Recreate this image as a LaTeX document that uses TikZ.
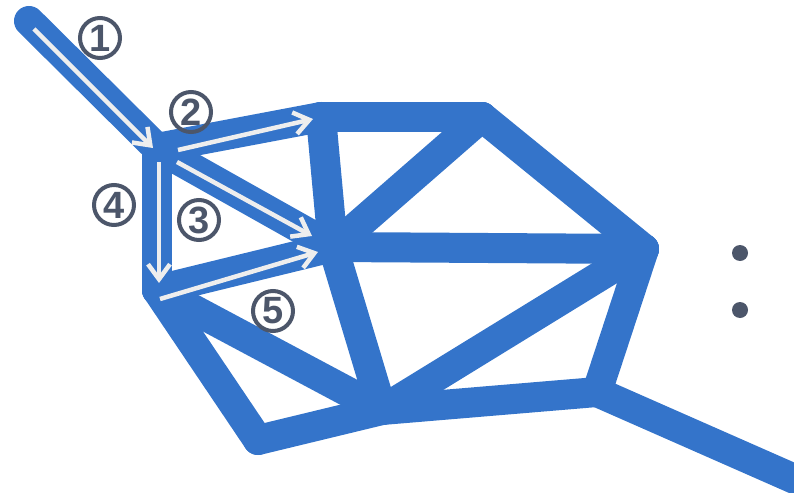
\documentclass[tikz,border=0pt]{standalone}
\usepackage{fontspec}
\setsansfont{Liberation Sans}
\usetikzlibrary{arrows.meta}
\usetikzlibrary{math}
\definecolor{netblue}{RGB}{52,116,202}
\definecolor{markgray}{RGB}{76,86,106}
\definecolor{flowwhite}{RGB}{238,238,238}

\begin{document}
\begin{tikzpicture}[x=1pt,y=-1pt,
  beam/.style={netblue,line width=\wbeam pt,line cap=round,line join=round},
  flow/.style={flowwhite,line width=4.5pt,-{Straight Barb[length=15pt,width=22pt]}},
  numtag/.style={circle,draw=markgray,line width=4pt,text=markgray,minimum size=40pt,inner sep=0pt,
    font=\sffamily\bfseries\fontsize{38}{38}\selectfont},
  dotmark/.style={circle,fill=markgray,minimum size=16pt,inner sep=0pt}]
\tikzmath{
\wbeam=30;
}
\useasboundingbox (0,0) rectangle (794,492);

% joints of the net
\coordinate (S) at (29,21);
\coordinate (A) at (157,148);
\coordinate (B) at (321,117);
\coordinate (C) at (482,117);
\coordinate (D) at (644,249);
\coordinate (E) at (333,247);
\coordinate (F) at (157,290);
\coordinate (G) at (382,410);
\coordinate (H) at (258,440);
\coordinate (I) at (597,392);
\coordinate (T) at (815,488);

\foreach \p/\q in {S/A,A/B,B/C,C/D,A/F,A/E,B/E,E/C,E/D,F/E,F/G,F/H,H/G,E/G,G/D,G/I,I/D,I/T}
  \draw[beam] (\p) -- (\q);

% flow arrows
\coordinate (f1s) at (34,29);   \coordinate (f1e) at (153,148);
\coordinate (f2s) at (178,150); \coordinate (f2e) at (313,119);
\coordinate (f3s) at (177,162); \coordinate (f3e) at (312,236);
\coordinate (f4s) at (159,162); \coordinate (f4e) at (159,283);
\coordinate (f5s) at (160,299); \coordinate (f5e) at (318,252);
\foreach \k in {1,...,5}
  \draw[flow] (f\k s) -- (f\k e);

\node[numtag] (n1) at (100,38) {1};
\node[numtag] (n2) at (191,112) {2};
\node[numtag] (n3) at (199,220) {3};
\node[numtag] (n4) at (114,205) {4};
\node[numtag] (n5) at (273,311) {5};

\node[dotmark] (dot1) at (740,253) {};
\node[dotmark] (dot2) at (740,310) {};
\end{tikzpicture}
\end{document}
